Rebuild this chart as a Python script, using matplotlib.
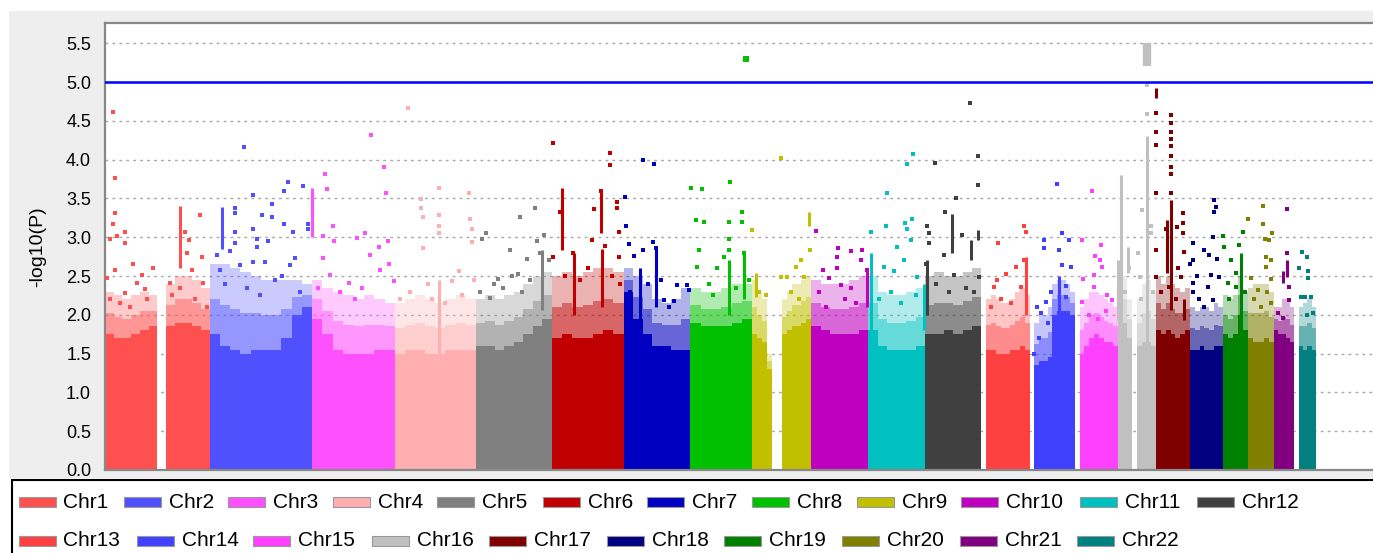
import numpy as np
import matplotlib.pyplot as plt
from matplotlib.patches import Rectangle

plt.rcParams['font.family'] = ['Liberation Sans', 'DejaVu Sans']

# =========================
# DATA
# =========================
CHROMS = [f"Chr{i}" for i in range(1, 23)]

# chromosome lengths (Mb)
CHR_LEN_MB = [249.3, 243.2, 198.0, 191.2, 180.9, 171.1, 159.1, 146.4, 141.2, 135.5, 135.0,
              133.9, 115.2, 107.3, 102.5, 90.4, 81.2, 78.1, 59.1, 63.0, 48.1, 51.3]

CHR_COLORS = ["#ff5050", "#5050ff", "#ff50ff", "#ffafaf", "#808080", "#c00000", "#0000c0",
              "#00c000", "#c0c000", "#c000c0", "#00c0c0", "#404040", "#ff4040", "#4040ff",
              "#ff40ff", "#c0c0c0", "#800000", "#000080", "#008000", "#808000", "#800080",
              "#008080"]

# top of the fully packed mass of points, equal bins along each chromosome
SOLID = [
    [1.75, 1.7, 1.7, 1.75, 1.8, 1.85, 0, 1.85, 1.9, 1.9, 1.85, 1.8],
    [1.75, 1.6, 1.55, 1.5, 1.55, 1.55, 1.55, 1.7, 2.0, 2.1],
    [1.95, 1.75, 1.55, 1.5, 1.5, 1.5, 1.55, 1.55],
    [1.5, 1.55, 1.55, 1.5, 1.5, 1.55, 1.55, 1.55],
    [1.6, 1.6, 1.55, 1.6, 1.65, 1.75, 1.85, 1.95],
    [1.7, 1.75, 1.7, 1.7, 1.75, 1.8, 1.75],
    [2.3, 1.95, 1.75, 1.6, 1.6, 1.55, 1.55],
    [1.9, 1.85, 1.85, 1.85, 1.9, 1.95],
    [1.75, 1.7, 1.65, 1.3, 0, 0, 1.75, 1.8, 1.85, 1.85, 1.9, 1.95],
    [1.85, 1.8, 1.75, 1.75, 1.75, 1.8],
    [1.8, 1.6, 1.55, 1.55, 1.55, 1.6],
    [1.75, 1.75, 1.8, 1.75, 1.8, 1.85],
    [0, 1.55, 1.55, 1.5, 1.5, 1.5, 1.55, 1.55, 1.6, 1.55],
    [0, 1.35, 1.4, 1.4, 1.45, 2.0, 2.05, 2.05, 2.05, 2.0],
    [0, 1.5, 1.6, 1.7, 1.75, 1.7, 1.65, 1.65, 1.6],
    [1.95, 1.9, 1.7, 0, 1.6, 1.65, 1.65, 1.6],
    [1.8, 1.75, 1.8, 1.75, 1.7, 1.75, 1.8],
    [1.55, 1.55, 1.6, 1.55, 1.55, 1.6, 1.6],
    [1.75, 1.7, 1.75, 2.0, 1.8],
    [1.7, 1.65, 1.65, 1.7, 1.65],
    [1.8, 1.75, 1.75, 1.7, 1.65],
    [0, 1.6, 1.55, 1.6, 1.55],
]

# top of the loosely packed (speckled) zone above it, same bins
SPECKLE = [
    [2.3, 2.25, 2.2, 2.25, 2.3, 2.25, 0, 2.4, 2.5, 2.5, 2.45, 2.35],
    [2.65, 2.65, 2.6, 2.55, 2.5, 2.45, 2.45, 2.45, 2.45, 2.4],
    [2.45, 2.35, 2.3, 2.25, 2.2, 2.25, 2.2, 2.15],
    [2.15, 2.2, 2.25, 2.2, 2.15, 2.2, 2.25, 2.2],
    [2.2, 2.25, 2.2, 2.25, 2.3, 2.4, 2.5, 2.55],
    [2.5, 2.55, 2.5, 2.55, 2.6, 2.6, 2.55],
    [2.6, 2.5, 2.4, 2.2, 2.15, 2.2, 2.35],
    [2.35, 2.3, 2.3, 2.35, 2.4, 2.4],
    [2.45, 2.3, 2.2, 1.5, 0, 0, 2.2, 2.3, 2.4, 2.4, 2.45, 2.5],
    [2.45, 2.4, 2.4, 2.4, 2.45, 2.5],
    [2.5, 2.3, 2.25, 2.25, 2.3, 2.35],
    [2.5, 2.55, 2.5, 2.5, 2.55, 2.6],
    [0, 2.2, 2.25, 2.2, 2.15, 2.15, 2.2, 2.3, 2.35, 2.25],
    [0, 1.9, 2.0, 2.0, 2.1, 2.4, 2.45, 2.45, 2.4, 2.3],
    [0, 2.1, 2.2, 2.3, 2.3, 2.25, 2.2, 2.15, 2.1],
    [2.6, 2.5, 2.2, 0, 2.2, 2.4, 2.45, 2.3],
    [2.5, 2.4, 2.5, 2.4, 2.35, 2.3, 2.35],
    [2.1, 2.05, 2.1, 2.1, 2.05, 2.15, 2.1],
    [2.25, 2.2, 2.25, 2.5, 2.3],
    [2.35, 2.4, 2.4, 2.4, 2.3],
    [2.1, 2.1, 2.2, 2.2, 2.1],
    [0, 2.1, 2.15, 2.2, 2.1],
]

# individual SNPs standing out above the mass: (position in chromosome Mb, -log10 P)
HITS = [
    [(19.8, 4.61), (24.5, 3.76), (24.5, 3.31), (19.8, 3.17), (29.3, 3.02), (11.9, 2.98),
     (46.9, 3.07), (46.9, 2.93), (4.0, 2.47), (23.8, 2.58), (66.0, 2.66), (87.4, 2.51),
     (115.0, 2.60), (75.5, 2.41), (47.6, 2.28), (95.2, 2.33), (191.2, 3.07), (226.2, 3.29),
     (200.0, 2.96), (154.8, 2.41), (206.4, 2.58), (230.2, 2.75), (234.0, 2.41), (194.5, 2.79),
     (11.9, 2.2), (35.7, 2.15), (59.5, 2.1), (100.0, 2.2), (159.5, 2.25), (214.3, 2.2),
     (242.8, 2.1), (178.6, 2.35)],
    [(82.4, 4.16), (60.2, 3.38), (60.2, 3.31), (60.2, 3.07), (60.2, 2.93), (103.8, 3.54),
     (103.8, 3.11), (111.9, 2.98), (125.2, 3.29), (147.6, 3.43), (147.6, 3.26), (138.1, 2.95),
     (177.6, 3.60), (177.6, 3.17), (187.1, 3.71), (199.1, 3.07), (221.4, 3.66), (234.8, 3.17),
     (234.8, 3.11), (111.9, 2.88), (16.7, 2.77), (48.3, 2.82), (103.8, 2.68), (131.7, 2.68),
     (191.2, 2.64), (203.1, 2.73), (72.1, 2.64), (24.5, 2.58), (36.4, 2.4), (88.8, 2.35),
     (155.5, 2.45), (215.0, 2.3), (119.8, 2.25), (172.1, 2.5)],
    [(31.4, 3.81), (35.5, 3.62), (26.0, 3.02), (48.8, 3.14), (52.9, 2.95), (126.7, 3.05),
     (140.2, 4.32), (170.2, 3.90), (176.0, 3.57), (179.8, 2.95), (158.3, 2.88), (26.0, 2.73),
     (43.3, 2.51), (86.9, 2.41), (138.6, 2.77), (162.4, 2.58), (182.1, 2.66), (196.0, 2.43),
     (107.6, 2.99), (67.0, 2.3), (102.9, 2.2), (119.5, 2.35), (14.8, 2.35)],
    [(29.3, 4.66), (61.2, 3.49), (61.2, 3.38), (66.0, 3.26), (104.0, 3.64), (104.0, 3.29),
     (104.0, 3.14), (104.0, 3.05), (66.0, 2.86), (174.5, 3.57), (178.6, 3.23), (182.6, 3.11),
     (182.6, 2.94), (150.7, 2.56), (186.4, 2.45), (135.0, 2.43), (119.0, 2.15), (11.9, 2.2),
     (35.7, 2.3), (78.6, 2.4), (88.0, 2.2), (159.5, 2.25)],
    [(24.8, 3.05), (15.2, 2.98), (104.8, 3.26), (140.5, 3.38), (161.9, 3.03), (146.2, 2.95),
     (82.6, 2.84), (122.4, 2.72), (52.4, 2.46), (86.7, 2.50), (100.0, 2.52), (154.1, 2.79),
     (173.8, 2.71), (35.0, 2.22), (11.2, 2.3), (66.0, 2.35), (111.0, 2.3), (130.0, 2.45),
     (44.5, 2.4)],
    [(3.3, 4.21), (19.0, 3.32), (138.1, 4.09), (138.1, 3.93), (117.6, 3.60), (100.0, 3.36),
     (155.7, 3.46), (155.7, 3.38), (159.5, 3.07), (96.2, 2.96), (51.0, 2.79), (3.3, 2.74),
     (127.9, 2.89), (159.5, 2.74), (32.6, 2.5), (68.3, 2.45), (87.4, 2.6), (144.5, 2.5),
     (163.6, 2.4)],
    [(45.7, 3.99), (71.9, 3.94), (2.9, 3.52), (6.2, 3.14), (12.4, 2.91), (24.3, 2.76),
     (45.7, 2.83), (69.5, 2.94), (76.0, 2.86), (127.6, 2.38), (151.4, 2.38), (155.2, 2.32),
     (119.5, 2.18), (95.7, 2.19), (16.4, 2.3), (56.9, 2.4), (87.9, 2.45), (107.0, 2.1)],
    [(1.9, 3.64), (28.1, 3.62), (93.8, 3.71), (123.3, 3.33), (123.3, 3.19), (91.4, 3.19),
     (12.1, 3.22), (31.9, 3.20), (91.4, 2.98), (20.0, 2.84), (127.1, 2.79), (91.4, 2.84),
     (79.5, 2.74), (63.8, 2.60), (16.2, 2.62), (43.1, 2.4), (52.6, 2.25), (107.4, 2.35),
     (138.3, 2.45)],
    [(69.5, 4.02), (0.5, 3.09), (137.6, 2.84), (115.5, 2.71), (103.6, 2.62), (69.5, 2.49),
     (123.3, 2.49), (32.1, 2.26), (83.8, 2.49), (15.5, 2.3), (91.7, 2.3), (110.7, 2.2)],
    [(10.0, 3.08), (63.1, 2.86), (93.3, 2.82), (119.5, 2.84), (60.0, 2.75), (28.3, 2.58),
     (60.0, 2.60), (41.7, 2.48), (117.1, 2.71), (133.0, 2.58), (69.5, 2.38), (93.3, 2.34),
     (17.9, 2.30), (81.0, 2.2), (105.0, 2.15), (33.8, 2.1)],
    [(107.1, 4.07), (91.2, 3.94), (45.2, 3.57), (104.8, 3.23), (86.4, 3.18), (41.2, 3.14),
     (5.5, 3.07), (92.9, 3.10), (69.0, 2.88), (100.7, 2.96), (84.8, 2.70), (37.1, 2.62),
     (60.9, 2.56), (116.7, 2.49), (24.5, 2.2), (52.9, 2.3), (76.7, 2.15), (112.6, 2.25)],
    [(106.9, 4.73), (126.0, 4.05), (126.0, 3.67), (22.9, 3.95), (72.9, 3.50), (46.7, 3.33),
     (5.5, 3.14), (9.3, 3.05), (9.3, 2.92), (88.8, 3.03), (45.0, 2.77), (1.4, 2.66),
     (68.8, 2.51), (128.3, 2.49), (25.0, 2.4), (56.2, 2.3), (96.7, 2.35), (115.7, 2.3)],
    [(39.5, 2.93), (101.4, 3.14), (105.5, 3.07), (101.4, 2.71), (81.7, 2.62), (57.9, 2.53),
     (38.1, 2.45), (93.6, 2.36), (30.0, 2.36), (46.0, 2.2), (69.8, 2.15), (22.1, 2.1)],
    [(64.0, 3.69), (33.8, 2.96), (33.8, 2.86), (77.6, 3.05), (69.5, 2.84), (93.3, 2.96),
     (18.1, 2.10), (37.9, 2.17), (26.0, 2.02), (97.4, 2.62), (77.6, 2.64), (85.5, 2.37),
     (85.5, 2.23), (49.8, 2.3), (21.2, 1.7), (42.6, 1.9), (9.3, 1.5)],
    [(40.0, 3.59), (17.9, 2.96), (61.4, 2.90), (47.9, 2.76), (59.8, 2.70), (63.8, 2.62),
     (19.3, 2.46), (45.5, 2.51), (45.5, 2.36), (17.9, 2.17), (77.4, 2.26), (89.3, 2.19),
     (32.9, 2.0), (54.3, 1.95), (73.3, 2.05)],
    [(70.2, 4.96), (70.2, 4.59), (47.9, 2.79), (52.6, 2.49), (78.1, 3.05), (78.1, 3.14),
     (58.3, 3.35), (16.2, 2.3), (25.7, 2.6), (54.3, 2.2), (82.9, 2.3)],
    [(1.2, 4.60), (1.2, 4.36), (1.2, 4.19), (1.2, 3.57), (1.2, 2.84), (1.2, 2.49),
     (35.2, 4.57), (35.2, 4.47), (35.2, 4.36), (35.2, 4.27), (35.2, 4.17), (35.2, 4.04),
     (35.2, 3.91), (35.2, 3.81), (35.2, 3.57), (49.5, 3.13), (63.1, 3.31), (63.1, 3.18),
     (63.1, 3.05), (65.5, 2.81), (23.3, 3.11), (51.2, 2.60), (59.0, 2.49), (31.2, 2.36),
     (11.4, 2.3), (47.1, 2.2)],
    [(57.1, 3.48), (61.2, 3.39), (57.1, 3.32), (54.8, 3.00), (33.3, 2.84), (7.1, 2.93),
     (7.1, 2.70), (45.2, 2.77), (62.9, 2.72), (0.5, 2.65), (49.3, 2.51), (69.0, 2.49),
     (7.1, 2.41), (7.1, 2.30), (41.4, 2.36), (53.3, 2.19), (20.7, 2.2), (32.6, 2.1), (16.0, 2.5)],
    [(46.7, 3.07), (38.6, 2.90), (1.0, 3.01), (2.9, 2.88), (18.8, 2.71), (11.0, 2.41),
     (30.7, 2.54), (30.7, 2.36), (14.0, 2.2), (52.1, 2.3)],
    [(35.2, 3.40), (35.2, 3.17), (1.0, 3.23), (56.7, 3.06), (40.7, 2.98), (51.0, 2.96),
     (43.1, 2.75), (43.1, 2.62), (55.0, 2.70), (55.0, 2.46), (7.4, 2.47), (23.3, 2.32),
     (55.0, 2.15), (14.5, 2.2), (31.2, 2.1), (45.5, 2.3)],
    [(29.3, 3.36), (29.3, 2.79), (35.5, 2.36), (35.5, 2.19), (7.9, 2.02), (20.5, 1.96)],
    [(16.9, 2.81), (29.5, 2.74), (11.2, 2.60), (32.6, 2.56), (32.6, 2.47), (15.2, 2.23),
     (24.8, 2.23), (39.0, 2.23), (43.1, 2.02), (29.5, 2.0)],
]

# columns of tightly stacked SNPs: (position Mb, low, high)
STREAKS = [
    [(178.6, 2.6, 3.4)],
    [(28.6, 2.85, 3.39)],
    [(1.0, 3.0, 3.63)],
    [(104.0, 1.5, 2.45)],
    [(158.6, 2.06, 2.84)],
    [(24.8, 2.84, 3.63), (117.6, 3.05, 3.6), (120.0, 2.1, 2.85), (53.1, 2.0, 2.8)],
    [(76.0, 2.1, 2.85), (40.0, 1.9, 2.6)],
    [(127.1, 2.2, 2.8), (91.4, 2.0, 2.7)],
    [(8.3, 2.23, 2.54), (135.2, 3.14, 3.32)],
    [(133.0, 2.1, 2.6)],
    [(5.5, 1.6, 2.79), (133.0, 1.8, 2.4)],
    [(65.0, 2.8, 3.3), (126.0, 2.96, 3.09), (108.8, 2.71, 2.96), (5.5, 2.0, 2.7)],
    [(105.5, 2.0, 2.75)],
    [(69.5, 2.0, 2.5)],
    [],
    [(6.7, 1.93, 3.80), (24.0, 2.54, 2.87), (70.2, 1.59, 4.30), (0.5, 1.93, 2.7)],
    [(1.2, 4.79, 4.92), (35.2, 2.06, 3.48), (27.0, 2.54, 3.22), (66.7, 1.93, 2.2)],
    [],
    [(42.6, 1.72, 2.80)],
    [],
    [(29.3, 2.49, 2.71), (19.8, 2.41, 2.56)],
    [],
]

# genome-wide significant hits above the threshold
TOP_HIT = ("Chr8", 131.2, 5.29)
TOP_BLOCK = ("Chr16", 70.2, 5.20, 5.50)
THRESHOLD = 5.0

# =========================
# FIGURE
# =========================
W, H = 1373, 553
fig = plt.figure(figsize=(W / 100, H / 100), dpi=100)
fig.patch.set_facecolor("white")

# grey chart panel and white legend box (pixel coords converted to figure fraction)
fig.patches.append(Rectangle((9 / W, 1 - 478 / H), 1, (478 - 11) / H, transform=fig.transFigure,
                             facecolor="#eeeeee", edgecolor="none", zorder=-10))
fig.patches.append(Rectangle((12 / W, -0.05), 1, 0.05 + (553 - 480) / H, transform=fig.transFigure,
                             facecolor="white", edgecolor="black", linewidth=1.5, zorder=-9))

ax = fig.add_axes([105 / W, 1 - 470 / H, (W - 105) / W + 0.01, (470 - 23) / H])
ax.set_facecolor("white")

offsets = np.concatenate([[0], np.cumsum(CHR_LEN_MB)[:-1]])

for i, name in enumerate(CHROMS):
    color = CHR_COLORS[i]
    off = offsets[i]
    length = CHR_LEN_MB[i]
    solid = np.array(SOLID[i])
    speck = np.array(SPECKLE[i])
    mid = (solid + speck) / 2
    w = length / len(solid)
    lefts = off + np.arange(len(solid)) * w
    # speckled zone: denser just above the packed mass, thinner towards its top
    ax.bar(lefts, speck - mid, bottom=mid, width=w, align="edge", color=color,
           alpha=0.3, linewidth=0, zorder=2)
    ax.bar(lefts, mid - solid, bottom=solid, width=w, align="edge", color=color,
           alpha=0.6, linewidth=0, zorder=2)
    ax.bar(lefts, solid, width=w, align="edge", color=color, linewidth=0, zorder=2)

    if STREAKS[i]:
        sx = [off + p for p, lo, hi in STREAKS[i]]
        slo = [lo for p, lo, hi in STREAKS[i]]
        shi = [hi for p, lo, hi in STREAKS[i]]
        ax.vlines(sx, slo, shi, color=color, linewidth=2.2, zorder=3)

    hx = [off + p for p, v in HITS[i]]
    hy = [v for p, v in HITS[i]]
    ax.plot(hx, hy, linestyle="none", marker="s", markersize=2.4, markeredgewidth=0,
            color=color, zorder=3)

# points above the line
ci = CHROMS.index(TOP_HIT[0])
ax.plot(offsets[ci] + TOP_HIT[1], TOP_HIT[2], linestyle="none", marker="s", markersize=5,
        markeredgewidth=0, color=CHR_COLORS[ci], zorder=4)
ci = CHROMS.index(TOP_BLOCK[0])
ax.vlines(offsets[ci] + TOP_BLOCK[1], TOP_BLOCK[2], TOP_BLOCK[3], color=CHR_COLORS[ci],
          linewidth=6, zorder=4)

ax.axhline(THRESHOLD, color="#0000ff", linewidth=1.8, zorder=5)

ax.set_xlim(0, (W - 105) * 2.381 + 30)
ax.set_ylim(0, (470 - 23) / 77.6)
ax.set_yticks(np.arange(0, 5.51, 0.5))
ax.set_yticklabels([f"{v:.1f}" for v in np.arange(0, 5.51, 0.5)], fontsize=13)
ax.set_xticks([])
ax.tick_params(axis="y", length=0, pad=10)
ax.yaxis.grid(True, color="#a8a8a8", linestyle=(0, (2, 3)), linewidth=1)
ax.set_axisbelow(True)
ax.set_ylabel("-log10(P)", fontsize=14, labelpad=14)

for side in ["left", "top", "bottom"]:
    ax.spines[side].set_color("#888888")
    ax.spines[side].set_linewidth(1.6)
ax.spines["right"].set_visible(False)

# =========================
# LEGEND (two rows, JFreeChart style)
# =========================
ROW1_X = [18.5, 124, 228, 333, 437, 543, 647, 752, 857, 961, 1080, 1197]
ROW2_X = [18.5, 137, 253, 372, 489, 607, 724, 842, 960, 1077]
ROW_Y = [502, 541]

for row, xs in enumerate([ROW1_X, ROW2_X]):
    start = 0 if row == 0 else len(ROW1_X)
    for j, x in enumerate(xs):
        k = start + j
        y = ROW_Y[row]
        fig.patches.append(Rectangle((x / W, 1 - (y + 5) / H), 37 / W, 10 / H,
                                     transform=fig.transFigure, facecolor=CHR_COLORS[k],
                                     edgecolor="#999999", linewidth=0.8, zorder=2))
        fig.text((x + 45) / W, 1 - y / H, CHROMS[k], fontsize=15, va="center", ha="left")

fig.savefig("out.png", dpi=100)
